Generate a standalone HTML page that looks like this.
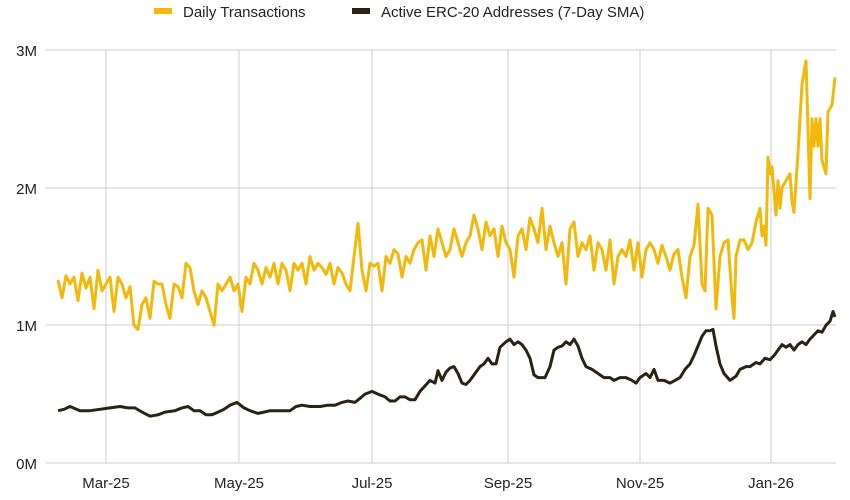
<!DOCTYPE html>
<html><head><meta charset="utf-8"><style>
body{margin:0;background:#fff;}
svg text{font-family:"Liberation Sans",Arial,sans-serif;fill:#222;}
</style></head><body>
<svg id="c" width="850" height="495" xmlns="http://www.w3.org/2000/svg">
<rect width="850" height="495" fill="#fff"/>
<g stroke="#cccccc" stroke-width="1">
<line x1="45" y1="50" x2="836" y2="50"/>
<line x1="45" y1="188" x2="836" y2="188"/>
<line x1="45" y1="325" x2="836" y2="325"/>
<line x1="45" y1="463" x2="836" y2="463"/>
<line x1="106" y1="50" x2="106" y2="463"/>
<line x1="239" y1="50" x2="239" y2="463"/>
<line x1="372" y1="50" x2="372" y2="463"/>
<line x1="508" y1="50" x2="508" y2="463"/>
<line x1="640" y1="50" x2="640" y2="463"/>
<line x1="771" y1="50" x2="771" y2="463"/>
</g>
<g font-size="15" text-anchor="end">
<text x="37" y="56">3M</text><text x="37" y="194">2M</text><text x="37" y="331">1M</text><text x="37" y="469">0M</text>
</g>
<g font-size="15" text-anchor="middle">
<text x="106" y="488">Mar-25</text><text x="239" y="488">May-25</text><text x="372" y="488">Jul-25</text>
<text x="508" y="488">Sep-25</text><text x="640" y="488">Nov-25</text><text x="771" y="488">Jan-26</text>
</g>
<rect x="154" y="8" width="18" height="6" fill="#f0b90b"/>
<text x="183" y="17" font-size="15">Daily Transactions</text>
<rect x="352" y="8" width="18" height="6" fill="#2b2211"/>
<text x="381" y="17" font-size="15">Active ERC-20 Addresses (7-Day SMA)</text>
<polyline id="y" fill="none" stroke="#f0b90b" stroke-width="3" stroke-linejoin="round"/>
<polyline id="b" fill="none" stroke="#2b2211" stroke-width="3" stroke-linejoin="round"/>
</svg>
<script>
function Y(v){return 463-v*137.7;}
var yd=[58,1.33,62,1.2,66,1.36,70,1.3,74,1.35,78,1.18,82,1.38,86,1.27,90,1.35,94,1.12,98,1.4,102,1.25,106,1.3,110,1.35,114,1.1,118,1.35,122,1.3,126,1.2,130,1.28,134,1.0,138,0.97,142,1.15,146,1.2,150,1.05,154,1.32,158,1.3,162,1.3,166,1.15,170,1.05,174,1.3,178,1.28,182,1.2,186,1.45,190,1.42,194,1.25,198,1.15,202,1.25,206,1.2,210,1.1,214,1.0,218,1.3,222,1.25,226,1.3,230,1.35,234,1.25,238,1.3,242,1.1,246,1.35,250,1.3,254,1.45,258,1.4,262,1.3,266,1.42,270,1.35,274,1.45,278,1.3,282,1.45,286,1.4,290,1.25,294,1.45,298,1.4,302,1.45,306,1.3,310,1.5,314,1.4,318,1.45,322,1.42,326,1.37,330,1.45,334,1.3,338,1.42,342,1.38,346,1.3,350,1.25,354,1.5,358,1.74,362,1.4,366,1.25,370,1.45,374,1.43,378,1.45,382,1.25,386,1.5,390,1.45,394,1.55,398,1.52,402,1.35,406,1.5,410,1.45,414,1.55,418,1.6,422,1.62,426,1.4,430,1.65,434,1.5,438,1.7,442,1.6,446,1.5,450,1.55,454,1.7,458,1.6,462,1.5,466,1.6,470,1.65,474,1.8,478,1.7,482,1.55,486,1.75,490,1.65,494,1.7,498,1.5,502,1.72,506,1.6,510,1.55,514,1.35,518,1.65,522,1.7,526,1.55,530,1.78,534,1.7,538,1.6,542,1.85,546,1.55,550,1.72,554,1.6,558,1.5,562,1.6,566,1.3,570,1.7,574,1.75,578,1.5,582,1.6,586,1.55,590,1.65,594,1.4,598,1.6,602,1.55,606,1.4,610,1.62,614,1.3,618,1.5,622,1.55,626,1.5,630,1.62,634,1.4,638,1.6,642,1.35,646,1.55,650,1.6,654,1.55,658,1.45,662,1.58,666,1.5,670,1.4,674,1.52,678,1.55,682,1.35,686,1.2,690,1.5,694,1.58,698,1.88,702,1.3,705,1.25,708,1.85,712,1.8,716,1.12,720,1.5,724,1.6,728,1.62,732,1.2,734,1.05,736,1.5,740,1.62,744,1.62,748,1.55,752,1.6,756,1.75,760,1.85,762,1.65,764,1.72,766,1.58,768,2.22,770,2.1,772,2.15,776,1.8,778,2.05,780,1.85,782,2.0,786,2.05,790,2.1,792,1.9,794,1.82,798,2.25,802,2.75,806,2.92,810,1.92,812,2.5,814,2.3,816,2.5,818,2.3,820,2.5,822,2.2,826,2.1,828,2.55,832,2.6,835,2.8];
var bd=[58,0.38,64,0.39,70,0.41,80,0.38,90,0.38,100,0.39,110,0.4,120,0.41,128,0.4,135,0.4,142,0.37,150,0.34,158,0.35,165,0.37,175,0.38,182,0.4,188,0.41,194,0.38,200,0.38,206,0.35,212,0.35,218,0.37,224,0.39,230,0.42,237,0.44,244,0.4,250,0.38,258,0.36,264,0.37,270,0.38,280,0.38,290,0.38,296,0.41,302,0.42,310,0.41,320,0.41,328,0.42,335,0.42,342,0.44,348,0.45,355,0.44,360,0.47,365,0.5,372,0.52,378,0.5,385,0.48,390,0.45,395,0.45,400,0.48,405,0.48,410,0.46,415,0.46,420,0.52,425,0.56,430,0.6,435,0.58,438,0.67,442,0.6,446,0.66,450,0.69,454,0.7,458,0.65,462,0.58,466,0.57,470,0.6,475,0.65,480,0.7,484,0.72,488,0.76,492,0.72,496,0.72,500,0.84,506,0.88,510,0.9,514,0.86,518,0.88,522,0.86,526,0.82,530,0.76,534,0.64,538,0.62,545,0.62,550,0.7,554,0.82,558,0.84,562,0.85,566,0.88,570,0.86,574,0.9,578,0.85,582,0.76,586,0.7,592,0.68,598,0.65,604,0.62,610,0.62,614,0.6,620,0.62,626,0.62,632,0.6,636,0.58,640,0.62,646,0.65,650,0.62,654,0.68,658,0.6,664,0.6,670,0.58,675,0.6,680,0.62,685,0.68,690,0.72,694,0.78,698,0.85,702,0.92,706,0.96,710,0.96,713,0.97,716,0.85,720,0.72,724,0.65,730,0.6,736,0.63,740,0.68,746,0.7,750,0.7,756,0.73,760,0.72,765,0.76,770,0.75,774,0.78,778,0.82,782,0.86,786,0.84,790,0.86,794,0.82,798,0.86,802,0.88,806,0.86,810,0.9,814,0.93,818,0.96,822,0.95,826,1.0,830,1.03,833,1.1,835,1.06];
function pts(d){var s=[];for(var i=0;i<d.length;i+=2)s.push(d[i]+","+Y(d[i+1]).toFixed(1));return s.join(" ");}
document.getElementById("y").setAttribute("points",pts(yd));
document.getElementById("b").setAttribute("points",pts(bd));
</script>
</body></html>
